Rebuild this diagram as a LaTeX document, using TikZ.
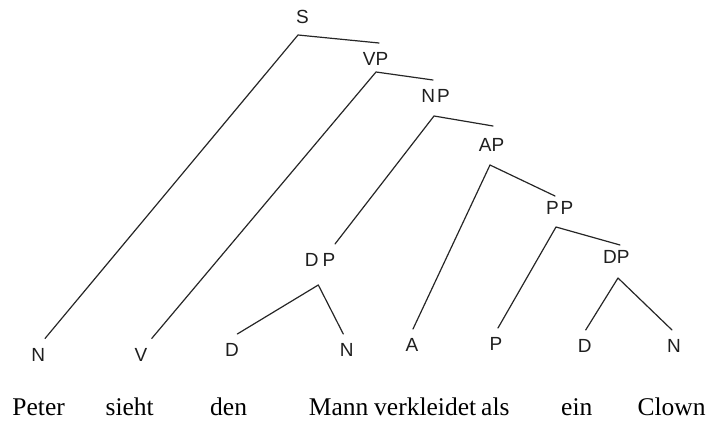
\documentclass[tikz,border=0pt]{standalone}
\usepackage{fontspec}
\setmainfont{Liberation Serif}
\newfontfamily\catfont{Liberation Sans}
\begin{document}
\begin{tikzpicture}[x=1pt,y=-1pt,
  cat/.style={font=\catfont\fontsize{19}{19}\selectfont, text=black!88,
    inner sep=0pt, text height=13.6pt, text depth=3.6pt, outer ysep=9.2pt, anchor=base},
  word/.style={font=\fontsize{25.5}{25.5}\selectfont, inner sep=0pt, anchor=base west},
  branch/.style={draw=black!85, line width=1.2pt, line join=round, line cap=round}]
\useasboundingbox (0,0) rectangle (713,422);

% phrase labels (placed by their baselines)
\node[cat] (S)   at (302.5,23.3)  {S};
\node[cat] (VP)  at (375.5,65.8)  {VP};
\node[cat] (NP)  at (435.5,102.8) {N\kern2pt P};
\node[cat] (AP)  at (491.5,151.8) {AP};
\node[cat] (PP)  at (559.7,214.3) {P\kern2pt P};
\node[cat] (DPr) at (616.3,263.3) {DP};
\node[cat] (DPl) at (320,266.8)   {D\kern4pt P};

% word-class labels
\node[cat] (N1) at (38.3,361.3)  {N};
\node[cat] (V)  at (141,361.3)   {V};
\node[cat] (D1) at (232,356.8)   {D};
\node[cat] (N2) at (346.7,356.8) {N};
\node[cat] (A)  at (412,351.8)   {A};
\node[cat] (P)  at (496,350.8)   {P};
\node[cat] (D2) at (584.7,352.8) {D};
\node[cat] (N3) at (674,352.8)   {N};

% branching points under each phrase label
\coordinate (S-j)   at (298,35);
\coordinate (VP-j)  at (376,72);
\coordinate (NP-j)  at (434,116);
\coordinate (AP-j)  at (490,165);
\coordinate (PP-j)  at (556,227);
\coordinate (DPr-j) at (618,278);
\coordinate (DPl-j) at (318.3,285);

% branches
\draw[branch] ([xshift=3.5pt]VP.north) -- (S-j) -- ([xshift=6.7pt]N1.north);
\draw[branch] ([xshift=-2.5pt]NP.north) -- (VP-j) -- ([xshift=10.7pt]V.north);
\draw[branch] ([xshift=1.5pt,yshift=3pt]AP.north) -- (NP-j) -- ([xshift=15pt]DPl.north);
\draw[branch] ([xshift=-4.7pt,yshift=-4.5pt]PP.north) -- (AP-j) -- ([xshift=1pt]A.north);
\draw[branch] ([xshift=3.7pt,yshift=-4.5pt]DPr.north) -- (PP-j) -- ([xshift=2pt]P.north);
\draw[branch] ([xshift=1pt]D2.north) -- (DPr-j) -- ([xshift=-2pt]N3.north);
\draw[branch] ([xshift=5.3pt]D1.north) -- (DPl-j) -- ([xshift=-3.4pt]N2.north);

% the sentence
\node[word] (w1) at (12.3,415)  {Peter};
\node[word] (w2) at (105.4,415) {sieht};
\node[word] (w3) at (210,415)   {den};
\node[word] (w4) at (308.7,415) {Mann};
\node[word] (w5) at (374,415)   {verkleidet};
\node[word] (w6) at (481,415)   {als};
\node[word] (w7) at (561,415)   {ein};
\node[word] (w8) at (637.3,415) {Clown};
\end{tikzpicture}
\end{document}
